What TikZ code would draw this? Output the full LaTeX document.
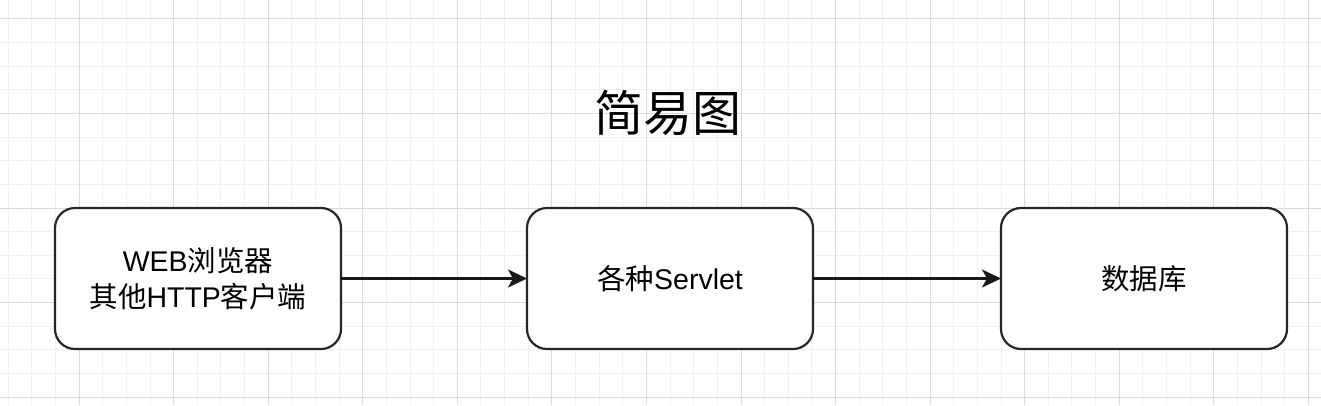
\documentclass[tikz,border=0pt]{standalone}
\usepackage{fontspec}
\setmainfont{Liberation Sans}
\newfontfamily\cjk{Noto Sans CJK SC}
\usetikzlibrary{arrows.meta,positioning}

\begin{document}
\begin{tikzpicture}[x=1pt, y=-1pt,
    minorline/.style={draw=black!6, line width=1pt},
    majorline/.style={draw=black!14, line width=1pt},
    box/.style={draw=black!85, line width=2.2pt, fill=white, rounded corners=20pt,
      minimum width=286pt, minimum height=141pt, inner sep=0pt, outer sep=0pt,
      align=center, font=\fontsize{28.5}{36}\selectfont},
    flow/.style={draw=black!90, line width=2.2pt, -{Stealth[length=19pt, width=18pt, inset=5pt]}}]
  \useasboundingbox (0,0) rectangle (1321,405);
  \fill[white] (0,0) rectangle (1321,405);
  % grid
  \foreach \i in {0,...,55}
    \draw[minorline] ({8.18+23.64*\i},0) -- ++(0,405);
  \foreach \j in {0,...,16}
    \draw[minorline] (0,{18.9+23.64*\j}) -- ++(1321,0);
  \foreach \i in {0,...,13}
    \draw[majorline] ({79.1+94.56*\i},0) -- ++(0,405);
  \foreach \j in {0,...,4}
    \draw[majorline] (0,{18.9+94.56*\j}) -- ++(1321,0);

  \node[font=\fontsize{49}{58}\selectfont\cjk] (title) at (667.5,113) {简易图};

  \node[box] (client) at (198,278.5) {WEB{\cjk 浏览器}\\{\cjk 其他}HTTP{\cjk 客户端}};
  \node[box, right=186pt of client] (servlet) {{\cjk 各种}Servlet};
  \node[box, right=188pt of servlet] (db) {\cjk 数据库};

  \draw[flow] (client) -- (servlet);
  \draw[flow] (servlet) -- (db);
\end{tikzpicture}
\end{document}
